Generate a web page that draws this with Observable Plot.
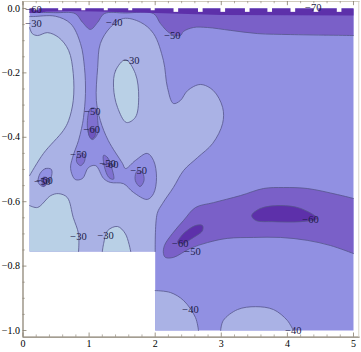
<!DOCTYPE html>
<html><head><meta charset="utf-8">
<style>html,body{margin:0;padding:0;background:#fff}svg{display:block}</style>
<script src="https://cdn.jsdelivr.net/npm/d3@7"></script>
<script src="https://cdn.jsdelivr.net/npm/@observablehq/plot@0.6"></script>
</head><body><div id="chart"></div>
<script>
const c1="#b9d0e6",c2="#aab2e5",c3="#9190e2",c4="#7a60c8",c5="#5d30aa",line="#55558c";

const domainOutline=[[.1,0],[5,0],[5,-1],[2,-1],[2,-.755],[.1,-.755]];
const contour40Main=[[.1,-.025],[.16,-.025],[.49,-.024],[.72,-.047],[.87,-.109],[.93,-.183],[.945,-.264],[.915,-.339],[.885,-.373],[.84,-.41],[.75,-.463],[.72,-.497],[.79,-.531],[.9,-.528],[.99,-.494],[1.1,-.488],[1.22,-.528],[1.32,-.54],[1.52,-.544],[1.67,-.571],[1.88,-.593],[1.975,-.575],[2.02,-.525],[1.975,-.472],[1.88,-.45],[1.7,-.472],[1.55,-.497],[1.505,-.481],[1.29,-.41],[1.17,-.348],[1.11,-.286],[1.13,-.183],[1.17,-.109],[1.32,-.059],[1.52,-.031],[1.78,-.043],[1.975,-.078],[2.125,-.162],[2.185,-.245],[2.275,-.295],[2.38,-.286],[2.49,-.255],[2.685,-.236],[2.88,-.255],[3.02,-.307],[3.02,-.357],[2.87,-.419],[2.64,-.463],[2.43,-.503],[2.275,-.556],[2.11,-.606],[2.03,-.637],[2,-.755]];
const contour40Corner=[[.1,-.755]];
const contour30Left=[[.1,-.059],[.14,-.078],[.22,-.084],[.37,-.075],[.54,-.09],[.69,-.13],[.76,-.202],[.76,-.286],[.69,-.348],[.61,-.379],[.31,-.45],[.1,-.519]];
const contour30Oval=[[1.55,-.159],[1.4,-.193],[1.37,-.245],[1.43,-.307],[1.565,-.354],[1.7,-.338],[1.75,-.276],[1.7,-.202]];
const contour30Lower=[[.1,-.612],[.22,-.618],[.42,-.581],[.54,-.575],[.67,-.587],[.76,-.649],[.84,-.7],[.84,-.755]];
const contour30LowerCorner=[[.1,-.755]];
const contour30Mid=[[1.2,-.755],[1.22,-.73],[1.28,-.69],[1.43,-.677],[1.55,-.70],[1.63,-.755]];
const contour40CornerArc=[[2,-.876],[2.23,-.882],[2.43,-.907],[2.61,-.96],[2.655,-1]];
const contour40CornerArcEnd=[[2,-1]];
const contour40Dome=[[2.99,-1],[3.03,-.969],[3.245,-.935],[3.52,-.926],[3.79,-.935],[4,-.969],[4.09,-1]];
const contour50Top=[[.1,-.012],[.49,-.013],[.79,-.016],[.9,-.043],[1.02,-.065],[1.13,-.043],[1.23,-.016],[1.55,-.014],[1.975,-.016],[2.08,-.047],[2.23,-.078],[2.38,-.084],[2.43,-.071],[2.58,-.059],[2.79,-.059],[3.14,-.068],[3.55,-.078],[4.05,-.081],[5,-.084]];
const contour50TopCorners=[[5,0],[.1,0]];
const contour50Worm=[[5,-.761],[4.65,-.736],[4.3,-.72],[3.895,-.711],[3.49,-.711],[3.09,-.714],[2.79,-.727],[2.53,-.745],[2.275,-.773],[2.155,-.773],[2.125,-.761],[2.14,-.736],[2.26,-.699],[2.43,-.658],[2.61,-.618],[2.88,-.603],[3.29,-.581],[3.64,-.559],[3.94,-.556],[4.3,-.559],[4.76,-.578],[5,-.59]];
const contour60Left=[[2.34,-.727],[2.43,-.699],[2.61,-.674],[2.715,-.674],[2.715,-.69],[2.58,-.711],[2.41,-.73]];
const contour60Right=[[3.46,-.643],[3.59,-.621],[3.895,-.612],[4.2,-.621],[4.45,-.652],[4.2,-.662],[3.79,-.662],[3.52,-.658]];
const contour50Column=[[1.02,-.311],[1.1,-.311],[1.13,-.348],[1.13,-.388],[1.05,-.407],[.99,-.388],[.975,-.348]];
const contour60Column=[[1.0,-.373],[1.08,-.373],[1.09,-.395],[1.04,-.405],[1.0,-.395]];
const contour50Mid=[[1.22,-.456],[1.28,-.463],[1.35,-.5],[1.37,-.53],[1.3,-.525],[1.23,-.49]];
const contour50Lobe=[[1.75,-.503],[1.81,-.51],[1.83,-.535],[1.77,-.553],[1.7,-.535],[1.71,-.51]];
const contour50Small=[[.84,-.45],[.93,-.453],[.93,-.475],[.87,-.488],[.81,-.475]];
const contour40LeftBlob=[[.26,-.512],[.34,-.497],[.43,-.5],[.42,-.528],[.31,-.553],[.23,-.54]];
const contour50LeftBlob=[[.3,-.525],[.36,-.525],[.36,-.54],[.31,-.553],[.29,-.54]];

const bandEdge=[[.1,0],[.1,-.014],[.25,-.014],[.35,-.009],[.7,-.008],[1.3,-.01],[2,-.014],[3,-.02],[5,-.022],[5,0]];
const notchLeftX=[.21,.57,.92,1.26,1.63,1.97];
const notchRightX=[2.32,2.69,3.03,3.4,3.74,4.09,4.44,4.79];

const labelText=["−60","−30","−40","−50","−30","−50","−60","−50","−50","−60","−50","−50","−60","−30","−30","−60","−50","−60","−40","−40","−70"];
const labelX=[.16,.16,1.38,2.26,1.64,1.05,1.04,.84,1.28,1.32,1.75,.295,.325,.84,1.25,2.38,2.565,4.35,2.535,4.09,4.39];
const labelY=[-.003,-.047,-.043,-.084,-.162,-.32,-.376,-.453,-.481,-.485,-.503,-.537,-.534,-.708,-.705,-.73,-.755,-.655,-.935,-1,.003];

const xTicks=[0,1,2,3,4,5];
const yTicks=[0,-.2,-.4,-.6,-.8,-1];
const xMinor=[.2,.4,.6,.8,1.2,1.4,1.6,1.8,2.2,2.4,2.6,2.8,3.2,3.4,3.6,3.8,4.2,4.4,4.6,4.8];
const yMinor=[-.05,-.1,-.15,-.25,-.3,-.35,-.45,-.5,-.55,-.65,-.7,-.75,-.85,-.9,-.95];

const X=d=>d[0],Y=d=>d[1];
const dup=a=>a.flatMap(p=>[p,p]);
const open=(pts,fill,corners=[])=>[
  Plot.line(corners.length?[...pts,...dup([pts[pts.length-1],...corners,pts[0]])]:pts,{x:X,y:Y,fill,stroke:"none",curve:"catmull-rom"}),
  Plot.line(pts,{x:X,y:Y,stroke:line,strokeWidth:.8,curve:"catmull-rom"})
];
const blob=(pts,fill)=>Plot.line(pts,{x:X,y:Y,fill,stroke:line,strokeWidth:.8,curve:"catmull-rom-closed"});

const axisCol="#857c6c";
const yT=.0217,yB=-1.0208;
const chart=Plot.plot({
  width:361,height:352,
  marginLeft:22.5,marginRight:1.4,marginTop:1,marginBottom:15.3,
  x:{domain:[0,5.1]},
  y:{domain:[yB,yT]},
  style:{fontFamily:"'Liberation Serif',serif",background:"#fff"},
  marks:[
    Plot.line(domainOutline,{x:X,y:Y,fill:c3,stroke:"none",curve:"linear-closed"}),
    ...open(contour40Main,c2,contour40Corner),
    ...open(contour30Left,c1),
    blob(contour30Oval,c1),
    ...open(contour30Lower,c1,contour30LowerCorner),
    ...open(contour30Mid,c1),
    ...open(contour40CornerArc,c2,contour40CornerArcEnd),
    ...open(contour40Dome,c2),
    ...open(contour50Top,c4,contour50TopCorners),
    ...open(contour50Worm,c4),
    blob(contour60Left,c5),
    blob(contour60Right,c5),
    blob(contour50Column,"#7f70d0"),
    blob(contour60Column,"#6f55c0"),
    blob(contour50Mid,"#7f70d0"),
    blob(contour50Lobe,"#7f70d0"),
    blob(contour50Small,"#7f70d0"),
    blob(contour40LeftBlob,c3),
    blob(contour50LeftBlob,c4),
    Plot.line(bandEdge,{x:X,y:Y,fill:c5,stroke:"none",curve:"linear-closed"}),
    Plot.rect(notchLeftX,{x1:d=>d-.03,x2:d=>d+.03,y1:-.007,y2:.003,fill:"#fff"}),
    Plot.rect(notchRightX,{x1:d=>d-.035,x2:d=>d+.035,y1:-.012,y2:.003,fill:"#fff"}),
    Plot.ruleX([0],{y1:yB,y2:yT,stroke:axisCol,strokeWidth:1.2}),
    Plot.ruleY([yB],{x1:0,x2:5.1,stroke:axisCol,strokeWidth:1.2}),
    Plot.ruleX([5.08],{y1:yB,y2:yT,stroke:"#d8d4c8",strokeWidth:1}),
    Plot.ruleY([yT],{x1:0,x2:5.1,stroke:"#cfcbbd",strokeWidth:1}),
    Plot.ruleY(yTicks,{x1:0,x2:.06,stroke:axisCol,strokeWidth:.8}),
    Plot.ruleY(yMinor,{x1:0,x2:.035,stroke:axisCol,strokeWidth:.6}),
    Plot.ruleX(xTicks,{y1:yB,y2:yB+.013,stroke:axisCol,strokeWidth:.8}),
    Plot.ruleX(xMinor,{y1:yB,y2:yB+.007,stroke:axisCol,strokeWidth:.6}),
    Plot.ruleX(xTicks,{y1:yT,y2:yT-.013,stroke:axisCol,strokeWidth:.8}),
    Plot.ruleX(xMinor,{y1:yT,y2:yT-.007,stroke:axisCol,strokeWidth:.6}),
    Plot.text(labelText,{x:(d,i)=>labelX[i],y:(d,i)=>labelY[i],text:d=>d,fontSize:10.5,fill:"#1c1c48"}),
    Plot.axisX({ticks:xTicks,tickSize:0,tickPadding:3,label:null,fontSize:10,tickFormat:d=>String(d)}),
    Plot.axisY({ticks:yTicks,tickSize:0,tickPadding:3,label:null,fontSize:10,tickFormat:d3.format(".1f")})
  ]
});
document.getElementById("chart").append(chart);
</script></body></html>
